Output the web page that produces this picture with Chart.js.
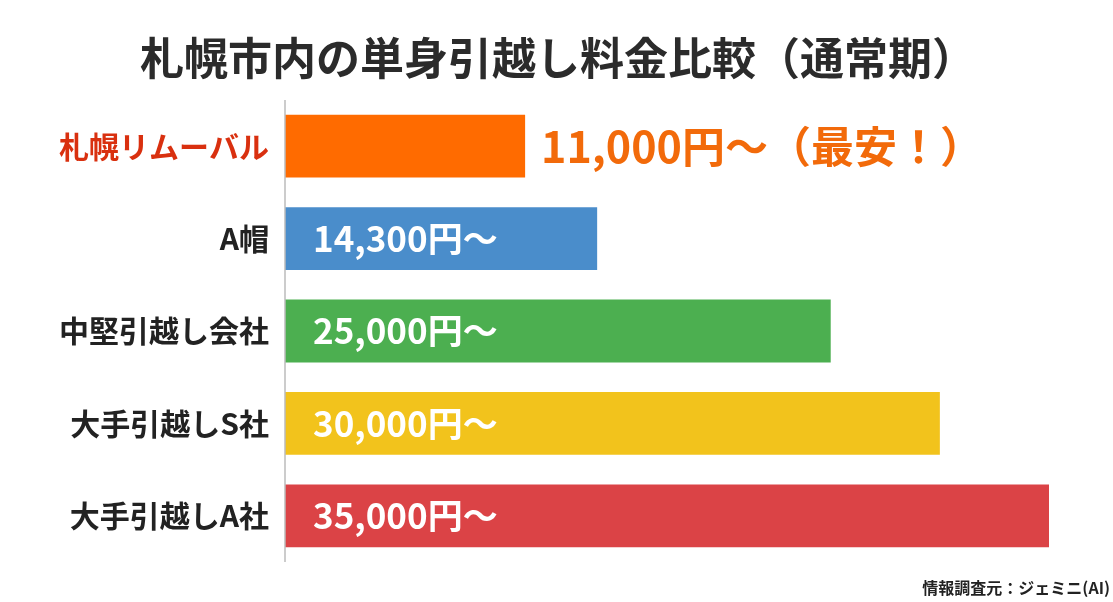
<!DOCTYPE html>
<html><head><meta charset="utf-8">
<script src="https://cdn.jsdelivr.net/npm/chart.js@4/dist/chart.umd.min.js"></script>
<style>html,body{margin:0;padding:0;background:#fff}#w{position:relative;width:1113px;height:602px}</style>
</head><body><div id="w"><canvas id="c" width="1113" height="602"></canvas></div>
<script>
const categories = ["札幌リムーバル","A帽","中堅引越し会社","大手引越しS社","大手引越しA社"];
const prices = [11000,14300,25000,30000,35000];
const priceLabels = ["11,000円～（最安！）","14,300円～","25,000円～","30,000円～","35,000円～"];
const colors = ["#FF6B00","#4A8DCB","#4CAF50","#F2C31C","#DB4346"];
const FONT = '"Noto Sans CJK JP","Noto Sans",sans-serif';
const labelPlugin = {
  id:'lbl',
  afterDatasetsDraw(chart){
    const ctx = chart.ctx, meta = chart.getDatasetMeta(0);
    ctx.save();
    ctx.textBaseline='middle';
    meta.data.forEach((b,i)=>{
      if(i===0){
        ctx.fillStyle='#F26A0A'; ctx.font='bold 43px '+FONT; ctx.textAlign='left';
        ctx.fillText(priceLabels[i], b.x+16, b.y);
      } else {
        ctx.fillStyle='#fff'; ctx.font='bold 35px '+FONT; ctx.textAlign='left';
        ctx.fillText(priceLabels[i], chart.scales.x.left+28, b.y);
      }
    });
    ctx.fillStyle='#2b2b2b'; ctx.font='bold 44px '+FONT; ctx.textAlign='center';
    ctx.fillText('札幌市内の単身引越し料金比較（通常期）', 558, 58);
    ctx.font='bold 16px '+FONT; ctx.textAlign='right'; ctx.fillStyle='#222';
    ctx.fillText('情報調査元：ジェミニ(AI)', 1110, 588);
    ctx.strokeStyle='#bbb'; ctx.lineWidth=1.5;
    ctx.beginPath(); ctx.moveTo(chart.scales.x.left, 100); ctx.lineTo(chart.scales.x.left, 562); ctx.stroke();
    ctx.restore();
  }
};
new Chart(document.getElementById('c'),{
  type:'bar',
  data:{labels:categories,datasets:[{data:prices,backgroundColor:colors,barPercentage:0.68,categoryPercentage:1}]},
  options:{
    indexAxis:'y',responsive:false,animation:false,
    layout:{padding:{top:100,bottom:40,left:8,right:64}},
    plugins:{legend:{display:false},tooltip:{enabled:false}},
    scales:{
      x:{min:0,max:35000,display:false},
      y:{grid:{display:false},border:{display:false},
        afterFit(s){s.width=277;},
        ticks:{padding:8,font:{size:30,weight:'bold',family:FONT},
          color:(c)=>c.index===0?'#D9300F':'#222'}}
    }
  },
  plugins:[labelPlugin]
});
</script></body></html>
